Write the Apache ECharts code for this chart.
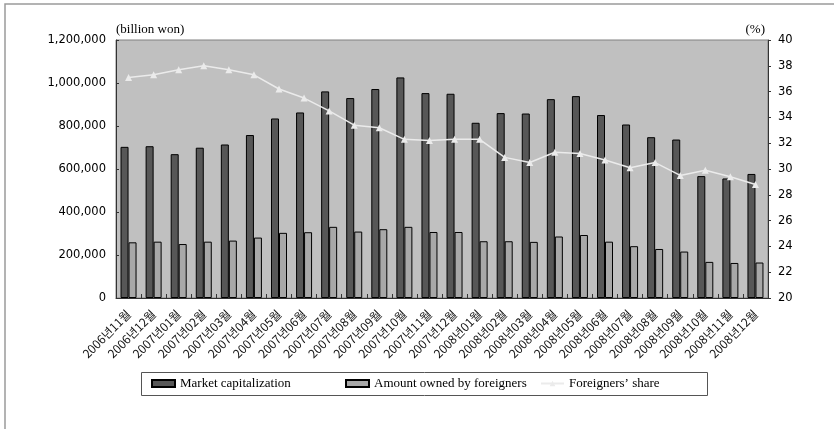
<!DOCTYPE html>
<html>
<head>
<meta charset="utf-8">
<script src="https://cdn.jsdelivr.net/npm/echarts@6/dist/echarts.min.js"></script>
<style>
html,body{margin:0;padding:0;background:#fff;}
#c{width:834px;height:429px;}
</style>
</head>
<body>
<div id="c"></div>
<script>
const categories = ['2006년11월','2006년12월','2007년01월','2007년02월','2007년03월','2007년04월','2007년05월','2007년06월','2007년07월','2007년08월','2007년09월','2007년10월','2007년11월','2007년12월','2008년01월','2008년02월','2008년03월','2008년04월','2008년05월','2008년06월','2008년07월','2008년08월','2008년09월','2008년10월','2008년11월','2008년12월'];
const marketCap = [703000,706000,669000,699000,714000,758000,835000,863000,961000,930000,972000,1026000,953000,950000,815000,860000,858000,925000,939000,851000,807000,748000,737000,567000,556000,577000];
const foreignAmt = [259000,262000,251000,262000,267000,281000,303000,306000,331000,309000,320000,331000,307000,307000,264000,264000,261000,286000,293000,262000,241000,228000,216000,168000,163000,165000];
const foreignShare = [37.1,37.3,37.7,38.0,37.7,37.3,36.2,35.5,34.5,33.4,33.2,32.3,32.2,32.3,32.3,30.9,30.5,31.3,31.2,30.7,30.1,30.5,29.5,29.9,29.4,28.8];
const seriesNames = ['Market capitalization','Amount owned by foreigners','Foreigners’ share'];
const leftUnit = '(billion won)';
const rightUnit = '(%)';

const chart = echarts.init(document.getElementById('c'), null, {renderer:'canvas'});
const serif = 'Liberation Serif, "Noto Sans CJK KR", serif';
const numFont = '"DejaVu Sans", sans-serif';
const legendText = {fontFamily: serif, fontSize: 13, color: '#000'};
function fmt(v){ return v.toString().replace(/\B(?=(\d{3})+(?!\d))/g, ','); }

chart.setOption({
  animation: false,
  backgroundColor: '#fff',
  grid: {left:116, right:66, top:40, bottom:131, show:true, backgroundColor:'#c0c0c0', borderColor:'#808080', borderWidth:1},
  graphic: [
    {type:'rect', shape:{x:5, y:4, width:1000, height:1000}, style:{fill:'none', stroke:'#9a9a9a', lineWidth:1.5}, silent:true, z:-10},
    {type:'rect', shape:{x:141.5, y:372.5, width:566, height:23}, style:{fill:'#fff', stroke:'#555', lineWidth:1}, silent:true, z:-5},
    {type:'text', x:116, y:30, style:{text:leftUnit, font:'13px Liberation Serif', fill:'#000', textAlign:'left', textVerticalAlign:'middle'}},
    {type:'text', x:765, y:30, style:{text:rightUnit, font:'13px Liberation Serif', fill:'#000', textAlign:'right', textVerticalAlign:'middle'}}
  ],
  legend: [
    {data:[seriesNames[0]], left:151, top:377, padding:0, icon:'rect', itemWidth:23, itemHeight:7, itemGap:5, textStyle:legendText},
    {data:[seriesNames[1]], left:345, top:377, padding:0, icon:'rect', itemWidth:23, itemHeight:7, itemGap:5, textStyle:legendText},
    {data:[seriesNames[2]], left:540, top:377, padding:0, itemWidth:23, itemHeight:7, itemGap:5, textStyle:legendText}
  ],
  xAxis: {
    type:'category', data:categories, boundaryGap:true,
    axisLine:{lineStyle:{color:'#333', width:1}},
    axisTick:{show:true, inside:true, length:4, lineStyle:{color:'#333'}},
    axisLabel:{rotate:45, fontFamily:'"Noto Sans CJK KR", sans-serif', fontSize:12, color:'#111', margin:14, interval:0}
  },
  yAxis: [
    {type:'value', min:0, max:1200000, interval:200000, position:'left',
     axisLine:{show:true, lineStyle:{color:'#333'}},
     axisTick:{show:true, inside:true, length:3, lineStyle:{color:'#333'}},
     splitLine:{show:false},
     axisLabel:{fontFamily:numFont, fontSize:11.5, color:'#000', margin:10, formatter:fmt}},
    {type:'value', min:20, max:40, interval:2, position:'right',
     axisLine:{show:true, lineStyle:{color:'#333'}},
     axisTick:{show:true, inside:false, length:3, lineStyle:{color:'#333'}},
     splitLine:{show:false},
     axisLabel:{fontFamily:numFont, fontSize:11.5, color:'#000', margin:10}}
  ],
  series: [
    {name:seriesNames[0], type:'bar', yAxisIndex:0, data:marketCap, barWidth:8, barGap:'0%',
     itemStyle:{color:'#575757', borderColor:'#000', borderWidth:1}},
    {name:seriesNames[1], type:'bar', yAxisIndex:0, data:foreignAmt, barWidth:8, barGap:'0%',
     itemStyle:{color:'#a8a8a8', borderColor:'#000', borderWidth:1}},
    {name:seriesNames[2], type:'line', yAxisIndex:1, data:foreignShare,
     symbol:'triangle', symbolSize:7, showSymbol:true,
     lineStyle:{color:'#ebebeb', width:1.5},
     itemStyle:{color:'#ebebeb', borderWidth:0}, z:5}
  ]
});
</script>
</body>
</html>
